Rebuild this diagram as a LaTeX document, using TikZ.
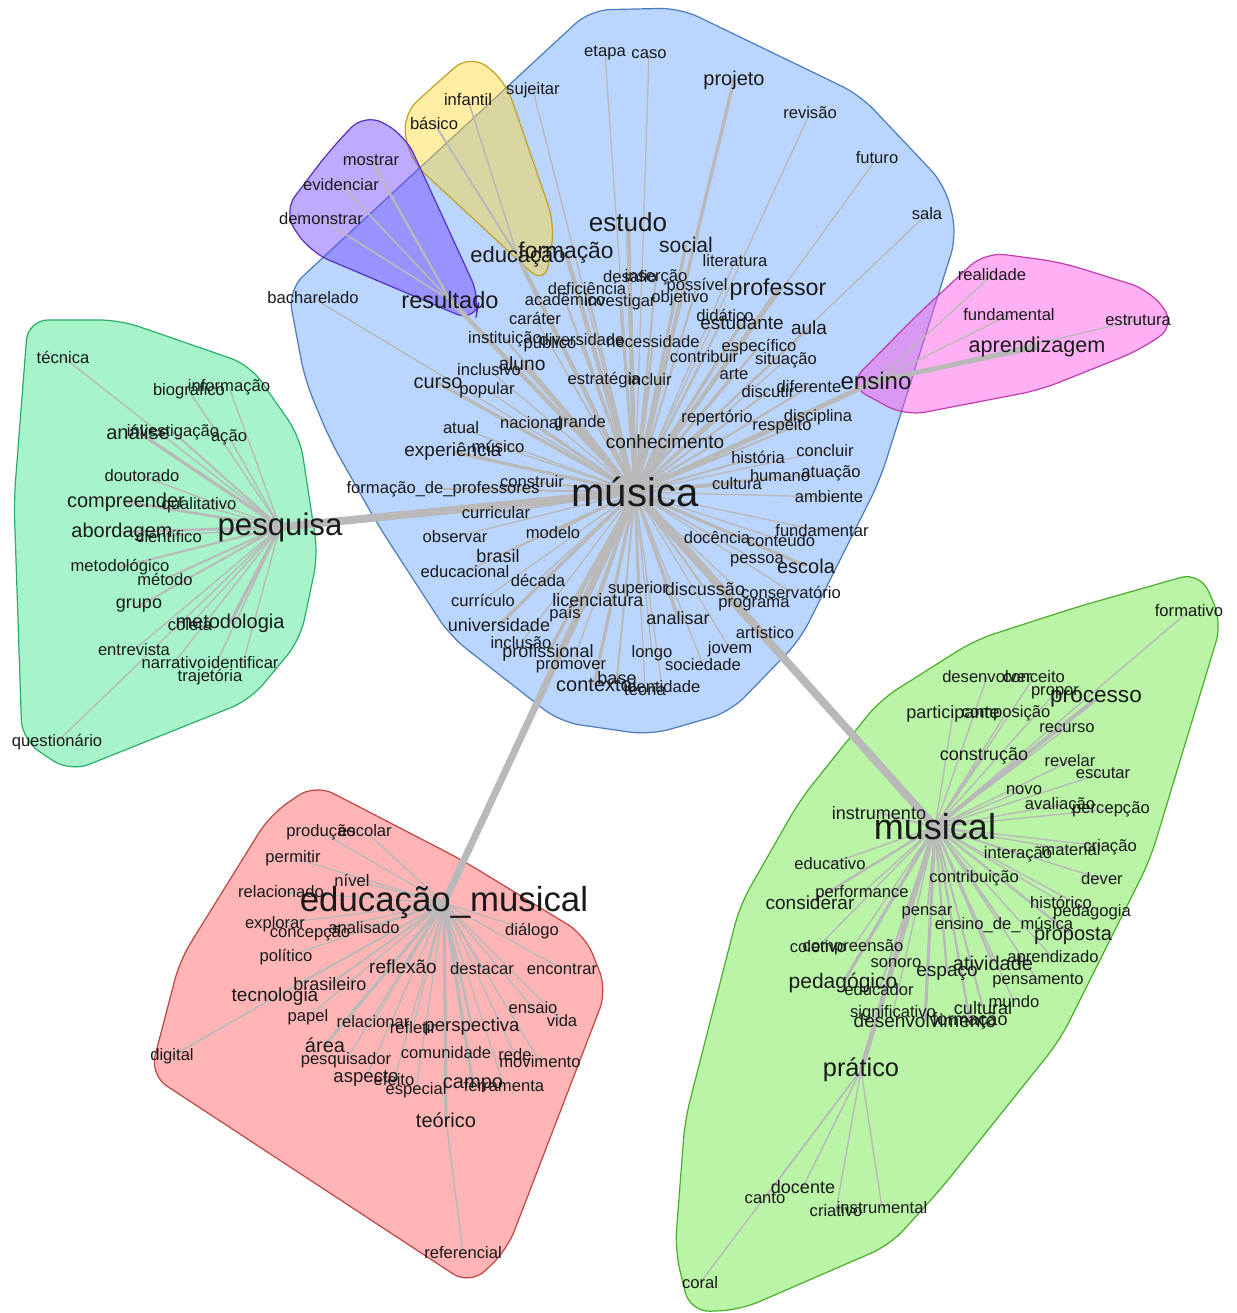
\documentclass[tikz,border=0pt]{standalone}
\usepackage{fontspec}
\setmainfont{Liberation Sans}
\pgfdeclarelayer{hulls}
\pgfdeclarelayer{links}
\pgfsetlayers{hulls,links,main}

\definecolor{lkc}{RGB}{185,185,185}
\definecolor{txt}{RGB}{25,25,25}
\definecolor{cblue}{RGB}{102,163,255}
\definecolor{cyellow}{RGB}{255,215,50}
\definecolor{cpurple}{RGB}{111,66,255}
\definecolor{cpink}{RGB}{255,80,230}
\definecolor{cmint}{RGB}{60,230,140}
\definecolor{cred}{RGB}{255,90,90}
\definecolor{cgreen}{RGB}{100,230,60}

\tikzset{
  word/.style={font=\fontsize{#1}{#1}\selectfont, text=txt, inner sep=0pt},
  word/.default=8.3,
  lk/.style={draw=lkc, line width=#1},
  lk/.default=0.7pt,
  hull/.style={fill=#1, fill opacity=0.45, draw=#1!75!black, line width=0.6pt, rounded corners=10pt}
}

\begin{document}
\begin{tikzpicture}[x=0.5pt,y=-0.5pt]
  \useasboundingbox (0,0) rectangle (1237,1313);

  % hubs
  \node[word=20] (mus) at (635,492) {música};
  \node[word=15.6] (pesq) at (280,527) {pesquisa};
  \node[word=17.4] (edmus) at (444,903) {educação\_musical};
  \node[word=18] (mscl) at (935,827) {musical};

  % blue
  \node[word] (etapa) at (605,53) {etapa};
  \node[word] (caso) at (649,54) {caso};
  \node[word=10] (projeto) at (734,80) {projeto};
  \node[word] (revisao) at (810,113) {revisão};
  \node[word] (futuro) at (877,158) {futuro};
  \node[word] (sala) at (927,214) {sala};
  \node[word] (sujeitar) at (533,90) {sujeitar};
  \node[word=13] (estudo) at (628,222) {estudo};
  \node[word=10.5] (social) at (686,245) {social};
  \node[word] (literatura) at (735,261) {literatura};
  \node[word=11.4] (formacao) at (566,253) {formação};
  \node[word] (desafio) at (630,277) {desafio};
  \node[word] (insercao) at (656,277) {inserção};
  \node[word] (possivel) at (697,286) {possível};
  \node[word] (deficiencia) at (587,289) {deficiência};
  \node[word] (academico) at (565,300) {acadêmico};
  \node[word] (investigar) at (620,302) {investigar};
  \node[word] (objetivo) at (680,298) {objetivo};
  \node[word=11.6] (professor) at (778,290) {professor};
  \node[word] (carater) at (535,318) {caráter};
  \node[word] (didatico) at (725,315) {didático};
  \node[word=9.5] (estudante) at (742,323) {estudante};
  \node[word=9.5] (aula) at (809,328) {aula};
  \node[word] (instituicao) at (505,339) {instituição};
  \node[word] (publico) at (550,344) {público};
  \node[word] (diversidade) at (582,340) {diversidade};
  \node[word] (necessidade) at (653,342) {necessidade};
  \node[word] (especifico) at (759,347) {específico};
  \node[word] (contribuir) at (704,357) {contribuir};
  \node[word] (situacao) at (786,360) {situação};
  \node[word] (inclusivo) at (489,370) {inclusivo};
  \node[word=9.6] (aluno) at (522,364) {aluno};
  \node[word=10] (curso) at (438,383) {curso};
  \node[word] (popular) at (487,390) {popular};
  \node[word] (estrategia) at (604,380) {estratégia};
  \node[word] (incluir) at (650,380) {incluir};
  \node[word] (arte) at (734,374) {arte};
  \node[word] (discutir) at (768,392) {discutir};
  \node[word] (diferente) at (809,387) {diferente};
  \node[word] (repertorio) at (717,418) {repertório};
  \node[word] (respeito) at (782,426) {respeito};
  \node[word] (disciplina) at (818,417) {disciplina};
  \node[word] (nacional) at (531,423) {nacional};
  \node[word] (grande) at (580,423) {grande};
  \node[word] (atual) at (461,428) {atual};
  \node[word] (musico) at (498,446) {músico};
  \node[word=9.5] (experiencia) at (453,452) {experiência};
  \node[word=9.5] (conhecimento) at (665,442) {conhecimento};
  \node[word] (historia) at (758,457) {história};
  \node[word] (concluir) at (825,451) {concluir};
  \node[word] (humano) at (780,476) {humano};
  \node[word] (atuacao) at (831,473) {atuação};
  \node[word] (cultura) at (737,484) {cultura};
  \node[word] (ambiente) at (829,497) {ambiente};
  \node[word] (formprof) at (443,489) {formação\_de\_professores};
  \node[word] (construir) at (532,482) {construir};
  \node[word] (curricular) at (496,513) {curricular};
  \node[word] (observar) at (455,537) {observar};
  \node[word] (modelo) at (553,533) {modelo};
  \node[word=9] (brasil) at (498,556) {brasil};
  \node[word] (educacional) at (465,572) {educacional};
  \node[word] (decada) at (538,580) {década};
  \node[word] (curriculo) at (483,600) {currículo};
  \node[word=9] (licenciatura) at (598,600) {licenciatura};
  \node[word] (superior) at (638,589) {superior};
  \node[word=9] (discussao) at (705,589) {discussão};
  \node[word] (pais) at (565,614) {país};
  \node[word=9] (universidade) at (499,625) {universidade};
  \node[word=9] (analisar) at (678,618) {analisar};
  \node[word] (inclusao) at (521,643) {inclusão};
  \node[word=9] (profissional) at (548,653) {profissional};
  \node[word] (longo) at (652,653) {longo};
  \node[word] (promover) at (571,667) {promover};
  \node[word=10] (contexto) at (594,685) {contexto};
  \node[word=9] (base) at (617,678) {base};
  \node[word] (teoria) at (645,690) {teoria};
  \node[word] (identidade) at (662,687) {identidade};
  \node[word] (sociedade) at (703,665) {sociedade};
  \node[word] (jovem) at (730,649) {jovem};
  \node[word] (docencia) at (717,538) {docência};
  \node[word] (conteudo) at (781,540) {conteúdo};
  \node[word] (fundamentar) at (822,531) {fundamentar};
  \node[word] (pessoa) at (757,561) {pessoa};
  \node[word=10] (escola) at (806,566) {escola};
  \node[word] (conservatorio) at (791,592) {conservatório};
  \node[word] (programa) at (754,605) {programa};
  \node[word] (artistico) at (765,632) {artístico};
  \node[word] (bacharelado) at (313,298) {bacharelado};

  % yellow and purple
  \node[word=11] (educacao) at (518,257) {educação};
  \node[word] (infantil) at (468,100) {infantil};
  \node[word] (basico) at (434,123) {básico};
  \node[word=11.8] (resultado) at (450,300) {resultado};
  \node[word] (mostrar) at (371,160) {mostrar};
  \node[word] (evidenciar) at (341,185) {evidenciar};
  \node[word] (demonstrar) at (321,219) {demonstrar};

  % pink
  \node[word=12] (ensino) at (876,381) {ensino};
  \node[word] (realidade) at (992,275) {realidade};
  \node[word] (fundamental) at (1009,315) {fundamental};
  \node[word] (estrutura) at (1138,320) {estrutura};
  \node[word=10.8] (aprendizagem) at (1037,347) {aprendizagem};

  % mint
  \node[word] (tecnica) at (63,357) {técnica};
  \node[word] (biografico) at (189,391) {biográfico};
  \node[word] (informacao) at (229,387) {informação};
  \node[word=10] (analise) at (138,432) {análise};
  \node[word] (investigacao) at (173,432) {investigação};
  \node[word] (acao) at (229,437) {ação};
  \node[word] (doutorado) at (142,476) {doutorado};
  \node[word=10] (compreender) at (126,502) {compreender};
  \node[word] (qualitativo) at (199,505) {qualitativo};
  \node[word=10] (abordagem) at (122,532) {abordagem};
  \node[word] (cientifico) at (169,536) {científico};
  \node[word] (metodologico) at (120,567) {metodológico};
  \node[word] (metodo) at (165,579) {método};
  \node[word=9] (grupo) at (139,606) {grupo};
  \node[word] (coleta) at (190,625) {coleta};
  \node[word=10] (metodologia) at (230,623) {metodologia};
  \node[word] (entrevista) at (134,650) {entrevista};
  \node[word] (narrativo) at (174,663) {narrativo};
  \node[word] (identificar) at (243,663) {identificar};
  \node[word] (trajetoria) at (210,677) {trajetória};
  \node[word] (questionario) at (57,742) {questionário};

  % red
  \node[word] (producao) at (321,832) {produção};
  \node[word] (escolar) at (365,831) {escolar};
  \node[word] (permitir) at (293,858) {permitir};
  \node[word] (nivel) at (352,880) {nível};
  \node[word] (relacionado) at (281,892) {relacionado};
  \node[word] (explorar) at (275,924) {explorar};
  \node[word] (concepcao) at (310,933) {concepção};
  \node[word] (analisado) at (364,928) {analisado};
  \node[word] (dialogo) at (532,931) {diálogo};
  \node[word] (politico) at (286,957) {político};
  \node[word=9.5] (reflexao) at (403,967) {reflexão};
  \node[word] (destacar) at (482,969) {destacar};
  \node[word] (encontrar) at (562,969) {encontrar};
  \node[word=9] (brasileiro) at (330,984) {brasileiro};
  \node[word=9.5] (tecnologia) at (275,997) {tecnologia};
  \node[word] (ensaio) at (533,1008) {ensaio};
  \node[word] (papel) at (308,1017) {papel};
  \node[word] (relacionar) at (373,1022) {relacionar};
  \node[word] (vida) at (562,1021) {vida};
  \node[word] (refletir) at (413,1028) {refletir};
  \node[word=9.3] (perspectiva) at (472,1027) {perspectiva};
  \node[word=10] (area) at (325,1045) {área};
  \node[word] (comunidade) at (446,1053) {comunidade};
  \node[word] (rede) at (515,1055) {rede};
  \node[word] (movimento) at (540,1062) {movimento};
  \node[word] (pesquisador) at (346,1060) {pesquisador};
  \node[word] (digital) at (172,1056) {digital};
  \node[word=9.3] (aspecto) at (366,1078) {aspecto};
  \node[word] (efeito) at (394,1080) {efeito};
  \node[word] (especial) at (416,1090) {especial};
  \node[word=10] (campo) at (473,1085) {campo};
  \node[word] (ferramenta) at (504,1086) {ferramenta};
  \node[word=10] (teorico) at (446,1120) {teórico};
  \node[word] (referencial) at (463,1253) {referencial};

  % green
  \node[word] (formativo) at (1189,611) {formativo};
  \node[word] (desenvolver) at (987,677) {desenvolver};
  \node[word] (conceito) at (1034,677) {conceito};
  \node[word] (propor) at (1055,693) {propor};
  \node[word=11.3] (processo) at (1096,699) {processo};
  \node[word=9] (participante) at (953,714) {participante};
  \node[word] (composicao) at (1006,713) {composição};
  \node[word] (recurso) at (1067,728) {recurso};
  \node[word=9] (construcao) at (984,756) {construção};
  \node[word] (revelar) at (1070,761) {revelar};
  \node[word] (escutar) at (1103,773) {escutar};
  \node[word] (novo) at (1024,790) {novo};
  \node[word] (avaliacao) at (1060,805) {avaliação};
  \node[word] (percepcao) at (1111,809) {percepção};
  \node[word=9] (instrumento) at (879,813) {instrumento};
  \node[word] (interacao) at (1018,854) {interação};
  \node[word] (material) at (1071,850) {material};
  \node[word] (criacao) at (1110,847) {criação};
  \node[word] (educativo) at (830,864) {educativo};
  \node[word] (contribuicao) at (974,878) {contribuição};
  \node[word] (dever) at (1102,879) {dever};
  \node[word] (performance) at (862,893) {performance};
  \node[word=9.5] (considerar) at (810,903) {considerar};
  \node[word] (historico) at (1061,902) {histórico};
  \node[word] (pedagogia) at (1092,912) {pedagogia};
  \node[word] (pensar) at (927,913) {pensar};
  \node[word] (ensinodm) at (1004,925) {ensino\_de\_música};
  \node[word=10] (proposta) at (1073,936) {proposta};
  \node[word] (coletivo) at (818,947) {coletivo};
  \node[word] (compreensao) at (853,947) {compreensão};
  \node[word] (sonoro) at (896,963) {sonoro};
  \node[word=10] (atividade) at (993,963) {atividade};
  \node[word] (aprendizado) at (1053,958) {aprendizado};
  \node[word=9.5] (espaco) at (947,973) {espaço};
  \node[word=10.5] (pedagogico) at (843,983) {pedagógico};
  \node[word] (educador) at (879,990) {educador};
  \node[word] (pensamento) at (1038,981) {pensamento};
  \node[word] (mundo) at (1014,1002) {mundo};
  \node[word=9] (cultural) at (983,1008) {cultural};
  \node[word] (significativo) at (893,1013) {significativo};
  \node[word=9.5] (desenvolvimento) at (925,1021) {desenvolvimento};
  \node[word=9] (formacaoG) at (970,1021) {formação};
  \node[word=12.7] (pratico) at (861,1070) {prático};
  \node[word=9] (docente) at (803,1187) {docente};
  \node[word] (canto) at (765,1198) {canto};
  \node[word] (criativo) at (836,1211) {criativo};
  \node[word] (instrumental) at (882,1208) {instrumental};
  \node[word] (coral) at (700,1283) {coral};

  \begin{pgfonlayer}{hulls}
    \draw[hull=cblue] (305,380) -- (288,290) -- (590,10) -- (680,8) -- (860,95) -- (945,185)
      -- (957,235) -- (880,480) -- (800,640) -- (730,712) -- (650,735) -- (560,722)
      -- (450,636) -- (378,525) -- (330,440) -- cycle;
    \draw[hull=cyellow] (436,84) -- (470,54) -- (505,80) -- (555,225) -- (545,285)
      -- (410,160) -- (402,115) -- cycle;
    \draw[hull=cpurple] (330,150) -- (365,113) -- (405,135) -- (480,298) -- (475,322)
      -- (310,252) -- (283,212) -- cycle;
    \draw[hull=cpink] (916,316) -- (985,252) -- (1060,262) -- (1150,290) -- (1176,325)
      -- (1140,350) -- (1040,390) -- (905,416) -- (848,385) -- cycle;
    \draw[hull=cmint] (120,320) -- (250,365) -- (300,437) -- (318,555) -- (300,640)
      -- (250,700) -- (70,772) -- (22,740) -- (14,500) -- (28,320) -- cycle;
    \draw[hull=cred] (462,860) -- (585,935) -- (607,990) -- (507,1250) -- (470,1285)
      -- (150,1075) -- (180,960) -- (270,815) -- (315,784) -- cycle;
    \draw[hull=cgreen] (1077,607) -- (1200,572) -- (1222,622) -- (1150,860) -- (1060,1040)
      -- (940,1190) -- (890,1245) -- (740,1310) -- (690,1312) -- (675,1250) -- (685,1120)
      -- (740,905) -- (800,800) -- (880,700) -- (975,640) -- cycle;
  \end{pgfonlayer}

  \begin{pgfonlayer}{links}
    \draw[lk=4pt] (mus.center) -- (pesq.center);
    \draw[lk=4pt] (mus.center) -- (mscl.center);
    \draw[lk=3.5pt] (mus.center) -- (edmus.center);
    \draw[lk=2.5pt] (mus.center) -- (ensino.center);
    \foreach \n in {estudo,formacao,educacao,professor,resultado}
      \draw[lk=2.2pt] (mus.center) -- (\n.center);
    \foreach \n in {projeto,curso,aluno,estudante,social,experiencia,conhecimento,contexto,
        escola,licenciatura,universidade,profissional,analisar}
      \draw[lk=1.7pt] (mus.center) -- (\n.center);
    \foreach \n in {brasil,discussao,base,aula,instituicao,diversidade,necessidade,investigar,
        nacional,grande,construir,formprof,deficiencia,academico,desafio,insercao,possivel,
        objetivo,didatico,especifico,contribuir,estrategia,incluir,arte,discutir,diferente,
        repertorio,respeito,disciplina,curricular,modelo,superior,historia,cultura}
      \draw[lk=1.1pt] (mus.center) -- (\n.center);
    \foreach \n in {etapa,caso,revisao,futuro,sala,sujeitar,literatura,carater,publico,
        situacao,inclusivo,popular,atual,musico,concluir,humano,atuacao,ambiente,observar,
        educacional,decada,curriculo,pais,inclusao,longo,promover,teoria,identidade,sociedade,
        jovem,docencia,conteudo,fundamentar,pessoa,conservatorio,programa,artistico,bacharelado}
      \draw[lk] (mus.center) -- (\n.center);

    \draw[lk=2.5pt] (ensino.center) -- (aprendizagem.center);
    \foreach \n in {realidade,fundamental,estrutura}
      \draw[lk] (ensino.center) -- (\n.center);
    \draw[lk=1pt] (educacao.center) -- (basico.center);
    \draw[lk=0.8pt] (educacao.center) -- (infantil.center);
    \draw[lk=1.1pt] (resultado.center) -- (mostrar.center);
    \foreach \n in {evidenciar,demonstrar}
      \draw[lk=0.8pt] (resultado.center) -- (\n.center);

    \foreach \n in {analise,metodologia}
      \draw[lk=1.6pt] (pesq.center) -- (\n.center);
    \foreach \n in {compreender,abordagem}
      \draw[lk=1.3pt] (pesq.center) -- (\n.center);
    \foreach \n in {grupo,investigacao,metodologico,metodo}
      \draw[lk=1pt] (pesq.center) -- (\n.center);
    \foreach \n in {tecnica,biografico,informacao,acao,doutorado,qualitativo,cientifico,
        coleta,entrevista,narrativo,identificar,trajetoria,questionario}
      \draw[lk] (pesq.center) -- (\n.center);

    \foreach \n in {area,campo,teorico}
      \draw[lk=1.6pt] (edmus.center) -- (\n.center);
    \foreach \n in {perspectiva,reflexao}
      \draw[lk=1.3pt] (edmus.center) -- (\n.center);
    \foreach \n in {tecnologia,brasileiro,comunidade}
      \draw[lk=1pt] (edmus.center) -- (\n.center);
    \foreach \n in {producao,escolar,permitir,nivel,relacionado,explorar,concepcao,analisado,
        dialogo,politico,destacar,encontrar,ensaio,papel,relacionar,vida,refletir,rede,
        movimento,pesquisador,aspecto,efeito,especial,ferramenta}
      \draw[lk] (edmus.center) -- (\n.center);
    \draw[lk=0.8pt] (teorico.center) -- (referencial.center);
    \draw[lk=0.8pt] (tecnologia.center) -- (digital.center);

    \draw[lk=2.4pt] (mscl.center) -- (pratico.center);
    \draw[lk=2pt] (mscl.center) -- (processo.center);
    \foreach \n in {pedagogico,desenvolvimento}
      \draw[lk=1.6pt] (mscl.center) -- (\n.center);
    \foreach \n in {considerar,proposta,atividade,espaco,formacaoG}
      \draw[lk=1.2pt] (mscl.center) -- (\n.center);
    \foreach \n in {instrumento,construcao,cultural,ensinodm,educador}
      \draw[lk=1pt] (mscl.center) -- (\n.center);
    \foreach \n in {formativo,desenvolver,conceito,propor,participante,composicao,recurso,
        revelar,escutar,novo,avaliacao,percepcao,interacao,material,criacao,educativo,
        contribuicao,dever,performance,historico,pedagogia,pensar,coletivo,compreensao,
        sonoro,aprendizado,pensamento,mundo,significativo}
      \draw[lk] (mscl.center) -- (\n.center);
    \foreach \n in {docente,canto,criativo,instrumental,coral}
      \draw[lk] (pratico.center) -- (\n.center);
  \end{pgfonlayer}
\end{tikzpicture}
\end{document}
